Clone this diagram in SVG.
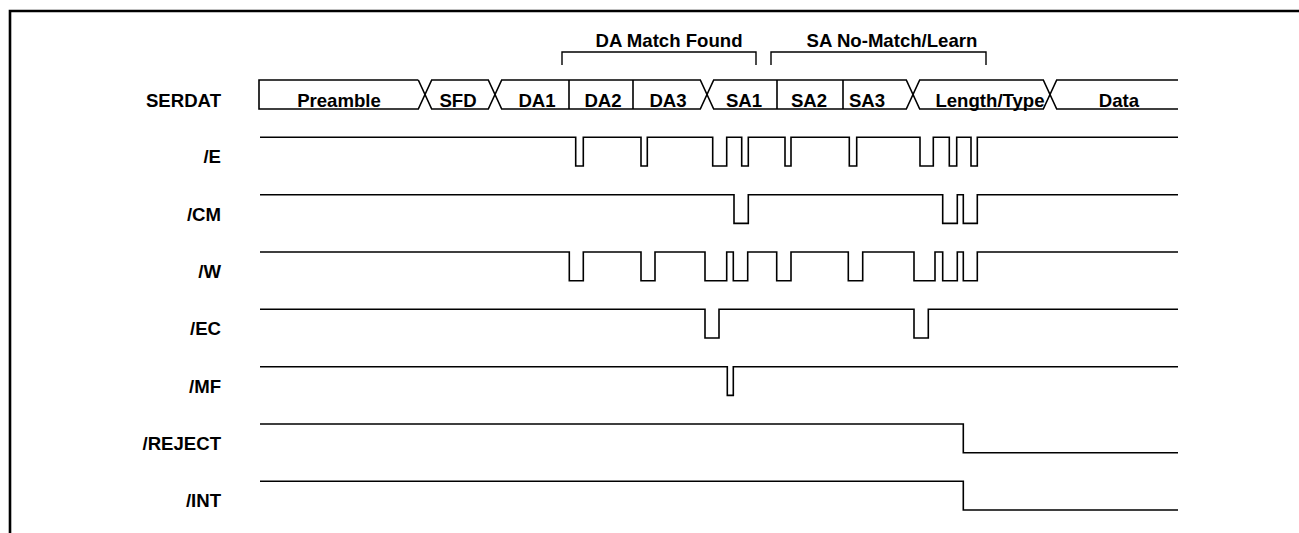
<svg xmlns="http://www.w3.org/2000/svg" width="1299" height="533" viewBox="0 0 1299 533">
<style>
.lbl{font-family:"Liberation Sans",Arial,Helvetica,sans-serif;font-weight:bold;font-size:18.6px;fill:#000}
.r{text-anchor:end}
.c{text-anchor:middle}
.w{fill:none;stroke:#000;stroke-width:1.6;stroke-linejoin:miter}
.b{fill:none;stroke:#000;stroke-width:1.4}
</style>
<rect width="1299" height="533" fill="#fff"/>
<path d="M10,533 V11 H1299" fill="none" stroke="#000" stroke-width="2.6"/>

<g id="brackets">
<path class="b" d="M562,65 V52 H756 V65"/>
<text class="lbl c" x="669" y="47">DA Match Found</text>
<path class="b" d="M771,65 V52 H986 V65"/>
<text class="lbl c" x="892" y="47">SA No-Match/Learn</text>
</g>

<g id="serdat">
<text class="lbl r" x="221" y="106.7">SERDAT</text>
<path class="w" d="M418.3,80 H259 V109 H418.3 L431.7,80 H488.3 L501.7,109 H700.3 L713.7,80 H906.3 L919.7,109 H1043.3 L1056.7,80 H1178"/>
<path class="w" d="M418.3,80 L431.7,109 H488.3 L501.7,80 H700.3 L713.7,109 H906.3 L919.7,80 H1043.3 L1056.7,109 H1178"/>
<path class="w" d="M569,80 V109 M633,80 V109 M777,80 V109 M843,80 V109"/>
<text class="lbl c" x="339" y="106.7">Preamble</text>
<text class="lbl c" x="458" y="106.7">SFD</text>
<text class="lbl c" x="537" y="106.7">DA1</text>
<text class="lbl c" x="603" y="106.7">DA2</text>
<text class="lbl c" x="668" y="106.7">DA3</text>
<text class="lbl c" x="744" y="106.7">SA1</text>
<text class="lbl c" x="809" y="106.7">SA2</text>
<text class="lbl c" x="867" y="106.7">SA3</text>
<text class="lbl c" x="990" y="106.7">Length/Type</text>
<text class="lbl c" x="1119" y="106.7">Data</text>
</g>

<g id="sig-E">
<text class="lbl r" x="221" y="163.3">/E</text>
<path class="w" d="M260,137.3 H575.7 V166 H583.3 V137.3 H641 V166 H647.3 V137.3 H712.7 V166 H726.7 V137.3 H741.7 V166 H748.3 V137.3 H785 V166 H791 V137.3 H849.3 V166 H856.7 V137.3 H920 V166 H933.3 V137.3 H949.3 V166 H956.7 V137.3 H971 V166 H977.3 V137.3 H1178"/>
</g>

<g id="sig-CM">
<text class="lbl r" x="221" y="220.6">/CM</text>
<path class="w" d="M260,194.7 H734 V223.4 H748.3 V194.7 H942.7 V223.4 H957.3 V194.7 H963.3 V223.4 H977.3 V194.7 H1178"/>
</g>

<g id="sig-W">
<text class="lbl r" x="221" y="277.9">/W</text>
<path class="w" d="M260,252 H569.3 V280.7 H583.3 V252 H641 V280.7 H655 V252 H705 V280.7 H726.7 V252 H733.3 V280.7 H747.7 V252 H776.7 V280.7 H791 V252 H848.3 V280.7 H862.7 V252 H914 V280.7 H935 V252 H942.7 V280.7 H957.3 V252 H963.3 V280.7 H977.3 V252 H1178"/>
</g>

<g id="sig-EC">
<text class="lbl r" x="221" y="335.2">/EC</text>
<path class="w" d="M260,309.3 H705 V338 H719 V309.3 H914 V338 H928.3 V309.3 H1178"/>
</g>

<g id="sig-MF">
<text class="lbl r" x="221" y="392.5">/MF</text>
<path class="w" d="M260,366.7 H727.3 V395.4 H733.3 V366.7 H1178"/>
</g>

<g id="sig-REJECT">
<text class="lbl r" x="221" y="449.8">/REJECT</text>
<path class="w" d="M260,424 H963.3 V452.7 H1178"/>
</g>

<g id="sig-INT">
<text class="lbl r" x="221" y="507.1">/INT</text>
<path class="w" d="M260,481.3 H963.3 V510 H1178"/>
</g>
</svg>
